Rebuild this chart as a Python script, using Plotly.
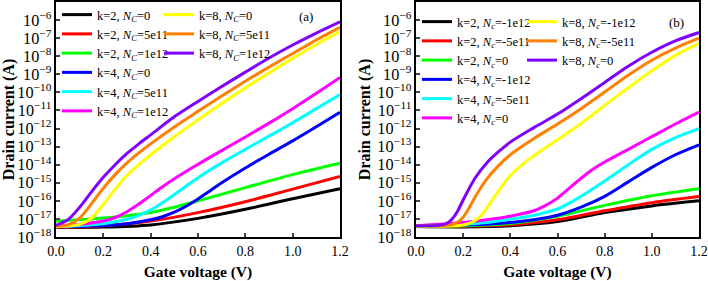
import plotly.graph_objects as go

# ---------------- data (log10 of drain current, A) ----------------
# Panel (a)
a_k2_0_v = [0, 0.2, 0.4, 0.6, 0.8, 1.0, 1.2]
a_k2_0_l = [-17.47, -17.45, -17.33, -16.97, -16.47, -15.88, -15.33]
a_k2_5e11_v = [0, 0.2, 0.4, 0.6, 0.8, 1.0, 1.2]
a_k2_5e11_l = [-17.47, -17.38, -17.12, -16.65, -16.05, -15.35, -14.65]
a_k2_1e12_v = [0, 0.1, 0.2, 0.3, 0.4, 0.5, 0.6, 0.8, 1.0, 1.2]
a_k2_1e12_l = [-17.12, -17.05, -16.95, -16.82, -16.65, -16.35, -16.0, -15.27, -14.55, -13.92]
a_k4_0_v = [0, 0.2, 0.3, 0.4, 0.45, 0.5, 0.55, 0.6, 0.65, 0.7, 0.8, 0.9, 1.0, 1.1, 1.2]
a_k4_0_l = [-17.45, -17.37, -17.27, -17.05, -16.88, -16.63, -16.3, -15.9, -15.45, -15.0, -14.18, -13.42, -12.68, -11.9, -11.1]
a_k4_5e11_v = [0, 0.2, 0.3, 0.35, 0.4, 0.45, 0.5, 0.55, 0.6, 0.7, 0.8, 0.9, 1.0, 1.1, 1.2]
a_k4_5e11_l = [-17.43, -17.27, -17.02, -16.8, -16.5, -16.1, -15.65, -15.18, -14.72, -13.9, -13.15, -12.42, -11.68, -10.9, -10.12]
a_k4_1e12_v = [0, 0.1, 0.2, 0.25, 0.3, 0.35, 0.4, 0.45, 0.5, 0.6, 0.7, 0.8, 0.9, 1.0, 1.1, 1.2]
a_k4_1e12_l = [-17.4, -17.3, -17.12, -16.92, -16.6, -16.18, -15.7, -15.22, -14.78, -13.98, -13.22, -12.47, -11.7, -10.9, -10.05, -9.17]
a_k8_0_v = [0, 0.1, 0.15, 0.2, 0.25, 0.3, 0.35, 0.4, 0.5, 0.6, 0.7, 0.8, 0.9, 1.0, 1.1, 1.2]
a_k8_0_l = [-17.43, -17.3, -16.95, -16.2, -15.35, -14.6, -14.0, -13.45, -12.45, -11.52, -10.62, -9.75, -8.92, -8.12, -7.35, -6.64]
a_k8_5e11_v = [0, 0.05, 0.1, 0.15, 0.2, 0.25, 0.3, 0.35, 0.4, 0.5, 0.6, 0.7, 0.8, 0.9, 1.0, 1.1, 1.2]
a_k8_5e11_l = [-17.4, -17.33, -16.95, -16.15, -15.3, -14.55, -13.9, -13.35, -12.85, -11.92, -11.05, -10.2, -9.38, -8.6, -7.85, -7.1, -6.4]
a_k8_1e12_v = [0, 0.05, 0.1, 0.15, 0.2, 0.25, 0.3, 0.35, 0.4, 0.5, 0.6, 0.7, 0.8, 0.9, 1.0, 1.1, 1.2]
a_k8_1e12_l = [-17.35, -17.05, -16.35, -15.5, -14.7, -14.0, -13.38, -12.85, -12.35, -11.35, -10.5, -9.68, -8.88, -8.1, -7.38, -6.72, -6.1]

# Panel (b)
b_k2_m1e12_v = [0, 0.2, 0.4, 0.6, 0.8, 1.0, 1.2]
b_k2_m1e12_l = [-17.42, -17.44, -17.38, -17.15, -16.65, -16.28, -16.0]
b_k2_m5e11_v = [0, 0.2, 0.4, 0.6, 0.8, 1.0, 1.2]
b_k2_m5e11_l = [-17.4, -17.4, -17.32, -17.05, -16.55, -16.1, -15.76]
b_k2_0_v = [0, 0.2, 0.4, 0.6, 0.8, 1.0, 1.2]
b_k2_0_l = [-17.4, -17.38, -17.25, -16.85, -16.25, -15.72, -15.33]
b_k4_m1e12_v = [0, 0.3, 0.4, 0.5, 0.6, 0.7, 0.8, 0.9, 1.0, 1.1, 1.2]
b_k4_m1e12_l = [-17.38, -17.3, -17.2, -17.05, -16.8, -16.35, -15.75, -14.95, -14.15, -13.45, -12.9]
b_k4_m5e11_v = [0, 0.2, 0.3, 0.4, 0.5, 0.6, 0.7, 0.8, 0.9, 1.0, 1.1, 1.2]
b_k4_m5e11_l = [-17.38, -17.3, -17.2, -17.02, -16.8, -16.45, -15.75, -14.9, -14.0, -13.15, -12.5, -12.0]
b_k4_0_v = [0, 0.1, 0.2, 0.3, 0.4, 0.5, 0.55, 0.6, 0.65, 0.7, 0.75, 0.8, 0.9, 1.0, 1.1, 1.2]
b_k4_0_l = [-17.38, -17.3, -17.2, -17.05, -16.85, -16.55, -16.25, -15.85, -15.3, -14.75, -14.25, -13.85, -13.15, -12.45, -11.75, -11.09]
b_k8_m1e12_v = [0, 0.2, 0.25, 0.28, 0.3, 0.35, 0.4, 0.45, 0.5, 0.6, 0.7, 0.8, 0.9, 1.0, 1.1, 1.2]
b_k8_m1e12_l = [-17.38, -17.34, -17.1, -16.75, -16.4, -15.45, -14.6, -14.0, -13.5, -12.62, -11.72, -10.72, -9.75, -8.8, -7.95, -7.29]
b_k8_m5e11_v = [0, 0.15, 0.18, 0.2, 0.225, 0.25, 0.3, 0.35, 0.4, 0.5, 0.6, 0.7, 0.8, 0.9, 1.0, 1.1, 1.2]
b_k8_m5e11_l = [-17.38, -17.32, -17.15, -16.9, -16.4, -15.8, -14.8, -14.05, -13.45, -12.55, -11.75, -10.9, -9.98, -9.05, -8.22, -7.55, -7.0]
b_k8_0_v = [0, 0.1, 0.13, 0.15, 0.175, 0.2, 0.25, 0.3, 0.35, 0.4, 0.5, 0.6, 0.7, 0.8, 0.9, 1.0, 1.1, 1.2]
b_k8_0_l = [-17.38, -17.35, -17.25, -17.05, -16.6, -15.95, -14.75, -13.9, -13.28, -12.75, -11.95, -11.2, -10.35, -9.45, -8.55, -7.78, -7.15, -6.69]

colors = ["#000000", "#ff0000", "#00ff00", "#0000ff", "#00ffff", "#ff00ff",
          "#ffff00", "#ff7f00", "#7f00ff"]

labels_a = ["k=2, <i>N<sub>C</sub></i>=0", "k=2, <i>N<sub>C</sub></i>=5e11",
            "k=2, <i>N<sub>C</sub></i>=1e12", "k=4, <i>N<sub>C</sub></i>=0",
            "k=4, <i>N<sub>C</sub></i>=5e11", "k=4, <i>N<sub>C</sub></i>=1e12",
            "k=8, <i>N<sub>C</sub></i>=0", "k=8, <i>N<sub>C</sub></i>=5e11",
            "k=8, <i>N<sub>C</sub></i>=1e12"]
labels_b = ["k=2, <i>N<sub>c</sub></i>=-1e12", "k=2, <i>N<sub>c</sub></i>=-5e11",
            "k=2, <i>N<sub>c</sub></i>=0", "k=4, <i>N<sub>c</sub></i>=-1e12",
            "k=4, <i>N<sub>c</sub></i>=-5e11", "k=4, <i>N<sub>c</sub></i>=0",
            "k=8, <i>N<sub>c</sub></i>=-1e12", "k=8, <i>N<sub>c</sub></i>=-5e11",
            "k=8, <i>N<sub>c</sub></i>=0"]

series_a = [(a_k2_0_v, a_k2_0_l), (a_k2_5e11_v, a_k2_5e11_l), (a_k2_1e12_v, a_k2_1e12_l),
            (a_k4_0_v, a_k4_0_l), (a_k4_5e11_v, a_k4_5e11_l), (a_k4_1e12_v, a_k4_1e12_l),
            (a_k8_0_v, a_k8_0_l), (a_k8_5e11_v, a_k8_5e11_l), (a_k8_1e12_v, a_k8_1e12_l)]
series_b = [(b_k2_m1e12_v, b_k2_m1e12_l), (b_k2_m5e11_v, b_k2_m5e11_l), (b_k2_0_v, b_k2_0_l),
            (b_k4_m1e12_v, b_k4_m1e12_l), (b_k4_m5e11_v, b_k4_m5e11_l), (b_k4_0_v, b_k4_0_l),
            (b_k8_m1e12_v, b_k8_m1e12_l), (b_k8_m5e11_v, b_k8_m5e11_l), (b_k8_0_v, b_k8_0_l)]

FONT = "Liberation Serif"
fig = go.Figure()

for i, (v, l) in enumerate(series_a):
    fig.add_trace(go.Scatter(
        x=v, y=[10 ** e for e in l], mode="lines", name=labels_a[i],
        line=dict(color=colors[i], width=3, shape="spline", smoothing=0.9),
        xaxis="x", yaxis="y", legend="legend" if i < 6 else "legend2"))
for i, (v, l) in enumerate(series_b):
    fig.add_trace(go.Scatter(
        x=v, y=[10 ** e for e in l], mode="lines", name=labels_b[i],
        line=dict(color=colors[i], width=3, shape="spline", smoothing=0.9),
        xaxis="x2", yaxis="y2", legend="legend3" if i < 6 else "legend4"))

L, R, T, B = 56, 9, 1, 44
W, H = 708, 281
PW, PH = W - L - R, H - T - B

def px(x):
    return (x - L) / PW

def py(y):
    return (T + PH - y) / PH

xcommon = dict(range=[0, 1.2], dtick=0.2, tickformat=".1f", ticks="inside", ticklen=4,
               tickwidth=1.5, showline=True, linewidth=2, linecolor="black", mirror=True,
               showgrid=False, zeroline=False,
               tickfont=dict(family=FONT, size=14, color="black"),
               title=dict(text="<b>Gate voltage (V)</b>",
                          font=dict(family=FONT, size=15.5, color="black"), standoff=9))
ycommon = dict(type="log", range=[-18, -5], dtick=1, exponentformat="power",
               showexponent="all", ticks="inside", ticklen=4, tickwidth=1.5,
               showline=True, linewidth=2, linecolor="black", mirror=True,
               showgrid=False, zeroline=False,
               tickfont=dict(family=FONT, size=13, color="black"),
               title=dict(text="<b>Drain current (A)</b>",
                          font=dict(family=FONT, size=16, color="black"), standoff=3))

legcommon = dict(bgcolor="rgba(0,0,0,0)", borderwidth=0, xanchor="left", yanchor="top",
                 font=dict(family=FONT, size=12.5, color="black"), itemwidth=30,
                 traceorder="normal")

fig.update_layout(
    width=W, height=H, margin=dict(l=L, r=R, t=T, b=B),
    paper_bgcolor="white", plot_bgcolor="white",
    xaxis=dict(domain=[0, px(340)], anchor="y", **xcommon),
    yaxis=dict(domain=[0, 1], anchor="x", **ycommon),
    xaxis2=dict(domain=[px(416), px(699)], anchor="y2", **xcommon),
    yaxis2=dict(domain=[0, 1], anchor="x2", **ycommon),
    legend=dict(x=px(57), y=py(0), **legcommon),
    legend2=dict(x=px(159), y=py(0), **legcommon),
    legend3=dict(x=px(417), y=py(7), **legcommon),
    legend4=dict(x=px(522), y=py(7), **legcommon),
    annotations=[
        dict(text="(a)", x=0.88, y=0.94, xref="x domain", yref="y domain",
             xanchor="center", yanchor="middle",
             showarrow=False, font=dict(family=FONT, size=13, color="black")),
        dict(text="(b)", x=0.922, y=0.911, xref="x2 domain", yref="y2 domain",
             xanchor="center", yanchor="middle",
             showarrow=False, font=dict(family=FONT, size=13, color="black")),
    ],
)

fig.write_html("out.html")
